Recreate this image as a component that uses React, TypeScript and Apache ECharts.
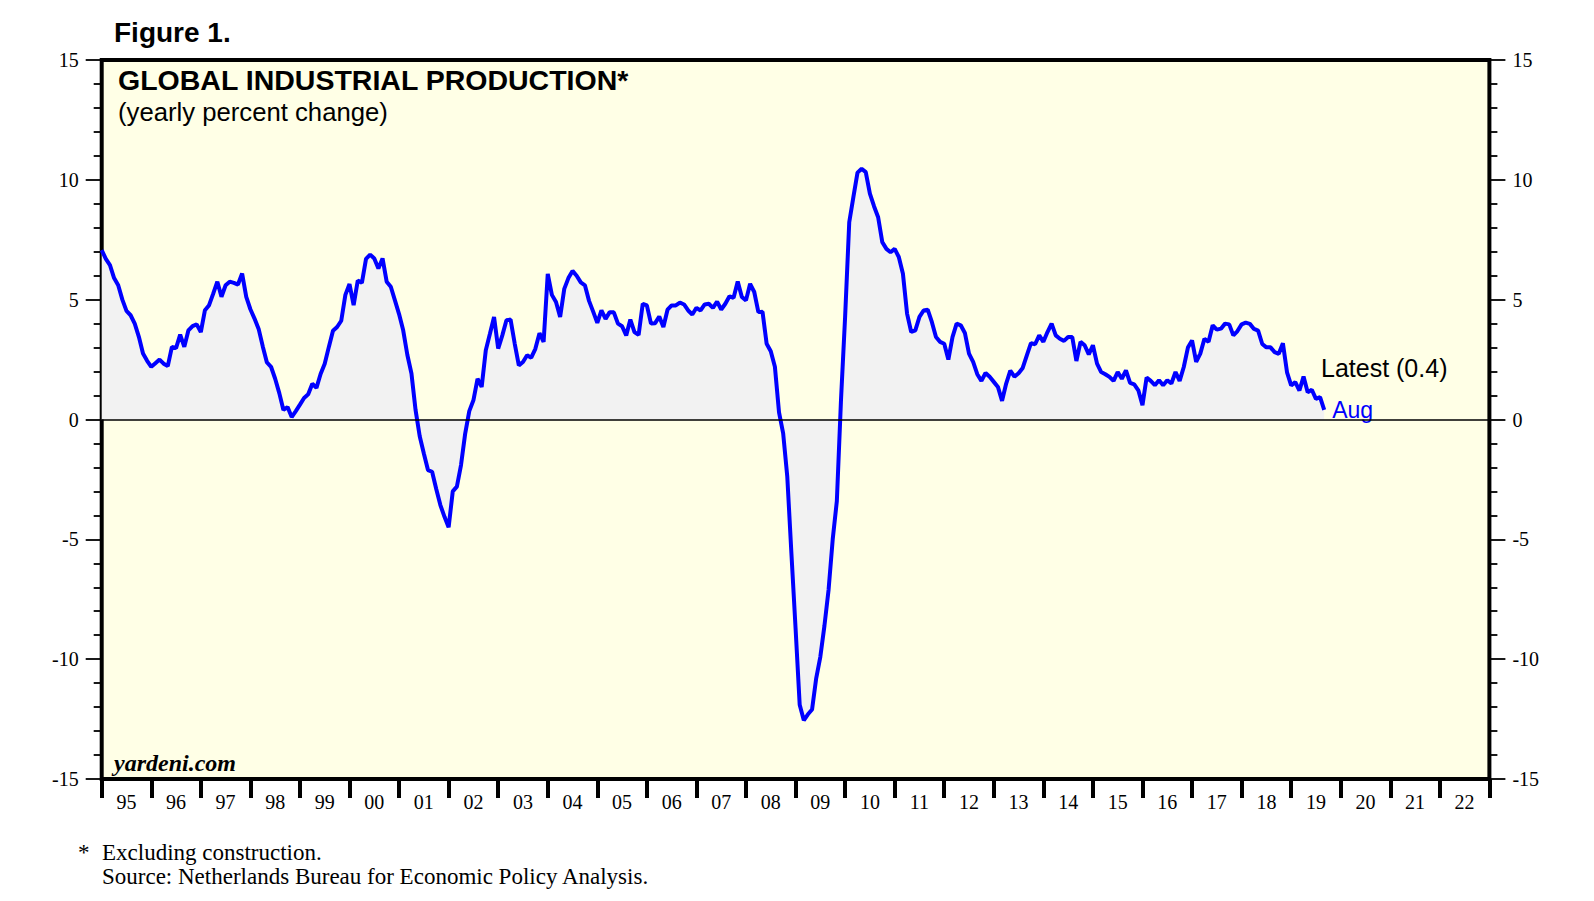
import React, { useEffect, useRef } from "react";
import * as echarts from "echarts";

// Global industrial production, yearly % change (month-end values)
const ip1994 = [7.07]; // Dec
const ip1995 = [6.7, 6.44, 5.9, 5.6, 5.0, 4.53, 4.35, 4.0, 3.45, 2.75, 2.45, 2.2];
const ip1996 = [2.35, 2.5, 2.33, 2.23, 3.03, 2.98, 3.54, 3.03, 3.72, 3.9, 3.97, 3.65];
const ip1997 = [4.56, 4.77, 5.25, 5.75, 5.12, 5.6, 5.75, 5.7, 5.63, 6.09, 5.12, 4.6];
const ip1998 = [4.21, 3.78, 3.05, 2.38, 2.2, 1.7, 1.1, 0.4, 0.52, 0.1, 0.35, 0.62];
const ip1999 = [0.9, 1.05, 1.49, 1.32, 1.9, 2.33, 3.03, 3.7, 3.86, 4.12, 5.2, 5.65];
const ip2000 = [4.77, 5.8, 5.7, 6.7, 6.88, 6.72, 6.3, 6.72, 5.75, 5.54, 4.97, 4.4];
const ip2001 = [3.72, 2.7, 1.92, 0.39, -0.7, -1.42, -2.11, -2.18, -2.9, -3.57, -4.06, -4.5];
const ip2002 = [-3.0, -2.8, -1.9, -0.6, 0.35, 0.8, 1.7, 1.36, 2.89, 3.58, 4.28, 2.96];
const ip2003 = [3.51, 4.14, 4.17, 3.17, 2.26, 2.4, 2.68, 2.58, 2.95, 3.6, 3.24, 6.08];
const ip2004 = [5.2, 4.9, 4.28, 5.45, 5.9, 6.2, 6.0, 5.72, 5.6, 4.95, 4.5, 4.03];
const ip2005 = [4.55, 4.2, 4.48, 4.47, 4.0, 3.89, 3.51, 4.17, 3.65, 3.53, 4.83, 4.76];
const ip2006 = [4.0, 4.02, 4.3, 3.86, 4.58, 4.76, 4.76, 4.88, 4.8, 4.55, 4.38, 4.66];
const ip2007 = [4.55, 4.8, 4.83, 4.66, 4.92, 4.59, 4.83, 5.14, 5.08, 5.76, 5.11, 4.97];
const ip2008 = [5.66, 5.32, 4.48, 4.5, 3.16, 2.85, 2.2, 0.3, -0.58, -2.39, -5.6, -8.7];
const ip2009 = [-11.9, -12.55, -12.3, -12.1, -10.8, -9.9, -8.6, -7.1, -5.0, -3.4, 0.8, 4.28];
const ip2010 = [8.23, 9.28, 10.3, 10.46, 10.32, 9.42, 8.9, 8.44, 7.4, 7.12, 6.98, 7.12];
const ip2011 = [6.78, 6.08, 4.42, 3.65, 3.72, 4.28, 4.55, 4.58, 4.07, 3.44, 3.24, 3.16];
const ip2012 = [2.5, 3.44, 4.0, 3.93, 3.61, 2.75, 2.4, 1.89, 1.61, 1.94, 1.78, 1.57];
const ip2013 = [1.36, 0.78, 1.5, 2.04, 1.79, 1.93, 2.15, 2.68, 3.19, 3.14, 3.51, 3.24];
const ip2014 = [3.65, 4.0, 3.51, 3.37, 3.28, 3.44, 3.44, 2.44, 3.24, 3.1, 2.72, 3.1];
const ip2015 = [2.33, 1.98, 1.89, 1.78, 1.61, 1.98, 1.7, 2.05, 1.53, 1.47, 1.22, 0.6];
const ip2016 = [1.75, 1.61, 1.43, 1.64, 1.43, 1.64, 1.5, 1.98, 1.61, 2.19, 3.0, 3.3];
const ip2017 = [2.4, 2.75, 3.37, 3.24, 3.93, 3.75, 3.79, 4.0, 3.97, 3.51, 3.69, 3.97];
const ip2018 = [4.04, 3.99, 3.78, 3.71, 3.15, 3.01, 3.01, 2.81, 2.74, 3.18, 1.97, 1.42];
const ip2019 = [1.56, 1.21, 1.79, 1.14, 1.24, 0.86, 0.93, 0.4]; // Jan-Aug

const yearBlocks: { year: number; firstMonth: number; values: number[] }[] = [
  { year: 1994, firstMonth: 12, values: ip1994 },
  { year: 1995, firstMonth: 1, values: ip1995 },
  { year: 1996, firstMonth: 1, values: ip1996 },
  { year: 1997, firstMonth: 1, values: ip1997 },
  { year: 1998, firstMonth: 1, values: ip1998 },
  { year: 1999, firstMonth: 1, values: ip1999 },
  { year: 2000, firstMonth: 1, values: ip2000 },
  { year: 2001, firstMonth: 1, values: ip2001 },
  { year: 2002, firstMonth: 1, values: ip2002 },
  { year: 2003, firstMonth: 1, values: ip2003 },
  { year: 2004, firstMonth: 1, values: ip2004 },
  { year: 2005, firstMonth: 1, values: ip2005 },
  { year: 2006, firstMonth: 1, values: ip2006 },
  { year: 2007, firstMonth: 1, values: ip2007 },
  { year: 2008, firstMonth: 1, values: ip2008 },
  { year: 2009, firstMonth: 1, values: ip2009 },
  { year: 2010, firstMonth: 1, values: ip2010 },
  { year: 2011, firstMonth: 1, values: ip2011 },
  { year: 2012, firstMonth: 1, values: ip2012 },
  { year: 2013, firstMonth: 1, values: ip2013 },
  { year: 2014, firstMonth: 1, values: ip2014 },
  { year: 2015, firstMonth: 1, values: ip2015 },
  { year: 2016, firstMonth: 1, values: ip2016 },
  { year: 2017, firstMonth: 1, values: ip2017 },
  { year: 2018, firstMonth: 1, values: ip2018 },
  { year: 2019, firstMonth: 1, values: ip2019 },
];

const yearLabels = [
  "95", "96", "97", "98", "99", "00", "01", "02", "03", "04", "05", "06", "07", "08",
  "09", "10", "11", "12", "13", "14", "15", "16", "17", "18", "19", "20", "21", "22",
];

const lastMonthLabel = "Aug";

const SANS = "'Liberation Sans', Arial, sans-serif";
const SERIF = "'Liberation Serif', 'Times New Roman', serif";

export default function App() {
  const ref = useRef<HTMLDivElement>(null);

  useEffect(() => {
    if (!ref.current) return;
    const chart = echarts.init(ref.current, undefined, { renderer: "svg" });

    const data: [number, number][] = [];
    yearBlocks.forEach((b) => {
      b.values.forEach((v, j) => {
        data.push([b.year + (b.firstMonth + j) / 12, v]);
      });
    });
    const latest = data[data.length - 1][1];

    const yAxisCommon = {
      type: "value",
      min: -15,
      max: 15,
      interval: 5,
      axisLine: { show: false },
      axisTick: { show: true, length: 16, lineStyle: { color: "#000", width: 1.8 } },
      minorTick: { show: true, splitNumber: 5, length: 8, lineStyle: { color: "#000", width: 1.8 } },
      axisLabel: { color: "#000", fontFamily: SERIF, fontSize: 20, margin: 23 },
      splitLine: { show: false },
      minorSplitLine: { show: false },
    };

    const option: any = {
      animation: false,
      backgroundColor: "#ffffff",
      grid: {
        left: 101.7,
        top: 60,
        width: 1387.7,
        height: 719,
        show: true,
        backgroundColor: "#FFFFE6",
        borderColor: "#000",
        borderWidth: 4,
      },
      xAxis: [
        { type: "value", min: 1995, max: 2023, show: false },
        {
          type: "category",
          data: yearLabels,
          position: "bottom",
          boundaryGap: true,
          axisLine: { show: false, onZero: false },
          axisTick: { show: true, interval: 0, length: 19, lineStyle: { color: "#000", width: 4 } },
          axisLabel: { interval: 0, color: "#000", fontFamily: SERIF, fontSize: 20, margin: 13 },
          splitLine: { show: false },
        },
      ],
      yAxis: [
        { ...yAxisCommon, position: "left" },
        { ...yAxisCommon, position: "right" },
      ],
      series: [
        {
          type: "line",
          xAxisIndex: 0,
          yAxisIndex: 0,
          data,
          symbol: "none",
          lineStyle: { color: "#0000FF", width: 4 },
          itemStyle: { color: "#0000FF" },
          areaStyle: { color: "#F2F2F2", opacity: 1 },
          endLabel: {
            show: true,
            formatter: lastMonthLabel,
            color: "#0000FF",
            fontFamily: SANS,
            fontSize: 23,
            distance: 8,
          },
          markLine: {
            silent: true,
            symbol: "none",
            label: { show: false },
            lineStyle: { color: "#000", width: 1.5, type: "solid" },
            data: [{ yAxis: 0 }],
          },
        },
      ],
      graphic: [
        {
          type: "text",
          z: 100,
          style: { text: "Figure 1.", x: 114, y: 32, verticalAlign: "middle", font: `bold 28px ${SANS}`, fill: "#000" },
        },
        {
          type: "text",
          z: 100,
          style: { text: "GLOBAL INDUSTRIAL PRODUCTION*", x: 118, y: 80, verticalAlign: "middle", font: `bold 28.5px ${SANS}`, fill: "#000" },
        },
        {
          type: "text",
          z: 100,
          style: { text: "(yearly percent change)", x: 118, y: 112, verticalAlign: "middle", font: `25.7px ${SANS}`, fill: "#000" },
        },
        {
          type: "text",
          z: 100,
          style: { text: "yardeni.com", x: 114, y: 763, verticalAlign: "middle", font: `italic bold 24px ${SERIF}`, fill: "#000" },
        },
        {
          type: "text",
          z: 100,
          style: { text: `Latest (${latest})`, x: 1321, y: 368, verticalAlign: "middle", font: `25px ${SANS}`, fill: "#000" },
        },
        {
          type: "text",
          z: 100,
          style: { text: "*", x: 78, y: 852, verticalAlign: "middle", font: `23px ${SERIF}`, fill: "#000" },
        },
        {
          type: "text",
          z: 100,
          style: { text: "Excluding construction.", x: 102, y: 852, verticalAlign: "middle", font: `23px ${SERIF}`, fill: "#000" },
        },
        {
          type: "text",
          z: 100,
          style: {
            text: "Source: Netherlands Bureau for Economic Policy Analysis.",
            x: 102,
            y: 876,
            verticalAlign: "middle",
            font: `23px ${SERIF}`,
            fill: "#000",
          },
        },
      ],
    };

    chart.setOption(option);
    return () => chart.dispose();
  }, []);

  return (
    <div
      ref={ref}
      style={{ position: "absolute", left: 0, top: 0, width: 1594, height: 901, background: "#fff" }}
    />
  );
}
